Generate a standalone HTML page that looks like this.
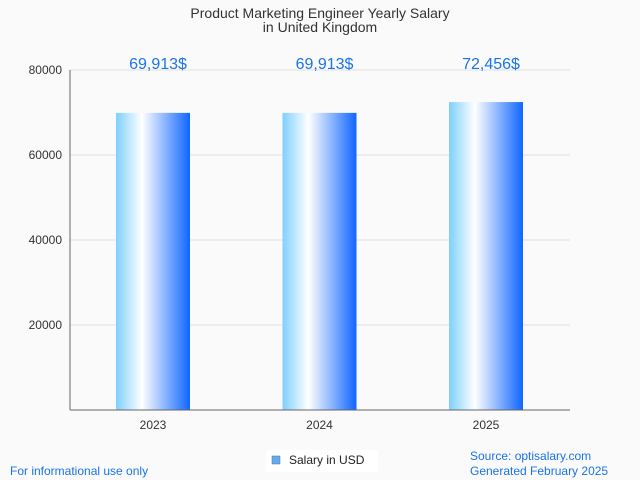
<!DOCTYPE html>
<html><head><meta charset="utf-8"><style>
body{margin:0;background:#fafafa;font-family:"Liberation Sans",sans-serif}
svg{display:block}
</style></head><body>
<svg id="chart" width="640" height="480" xmlns="http://www.w3.org/2000/svg">
<defs><linearGradient id="bg" x1="0" x2="1" y1="0" y2="0">
<stop offset="0" stop-color="#7fd0ff"/><stop offset="0.35" stop-color="#ffffff"/><stop offset="1" stop-color="#0f66ff"/>
</linearGradient></defs>
<rect width="640" height="480" fill="#fafafa"/>
<text x="320" y="18" text-anchor="middle" font-size="14" fill="#333">Product Marketing Engineer Yearly Salary</text>
<text x="320" y="32" text-anchor="middle" font-size="14" fill="#333">in United Kingdom</text>
<g id="grid"></g><g id="bars"></g>
<line x1="70" y1="70" x2="70" y2="410" stroke="#666"/>
<line x1="70" y1="410" x2="570" y2="410" stroke="#666"/>
<rect x="266" y="450" width="112" height="22" fill="#fff"/>
<rect x="272" y="456" width="8" height="8" fill="#66aaee" stroke="#4477aa" stroke-width="0.5"/>
<text x="289" y="464" font-size="12" fill="#222">Salary in USD</text>
<text x="10" y="475" font-size="12" fill="#1a73e8">For informational use only</text>
<text x="470" y="460" font-size="12" fill="#1a73e8">Source: optisalary.com</text>
<text x="470" y="475" font-size="12" fill="#1a73e8">Generated February 2025</text>
</svg>
<script>
const categories=["2023","2024","2025"];
const values=[69913,69913,72456];
const valueLabels=["69,913$","69,913$","72,456$"];
const yTicks=[20000,40000,60000,80000];
const ns="http://www.w3.org/2000/svg";
const y=v=>410-v/80000*340;
const x=i=>153+i*166.5;
function mk(t,a,p){const e=document.createElementNS(ns,t);for(const k in a)e.setAttribute(k,a[k]);p.appendChild(e);return e;}
const g=document.getElementById('grid'),b=document.getElementById('bars');
yTicks.forEach(t=>{
 const l=mk('line',{x1:70,x2:570,y1:y(t),y2:y(t),stroke:'#e0e0e0'},g);
 
 
 const tx=mk('text',{x:62,y:y(t)+4,'text-anchor':'end','font-size':12,fill:'#333'},g);
 tx.textContent=t;
 
 
});
categories.forEach((c,i)=>{
 const r=mk('rect',{x:x(i)-37,y:y(values[i]),width:74,height:410-y(values[i]),fill:'url(#bg)'},b);
 
 
 const v=mk('text',{x:x(i)+5,y:69,'text-anchor':'middle','font-size':16,fill:'#1a73e8'},b);
 v.textContent=valueLabels[i];
 
 
 const tl=mk('text',{x:x(i),y:429,'text-anchor':'middle','font-size':12,fill:'#333'},b);
 tl.textContent=c;
 
 
});
</script>
</body></html>
